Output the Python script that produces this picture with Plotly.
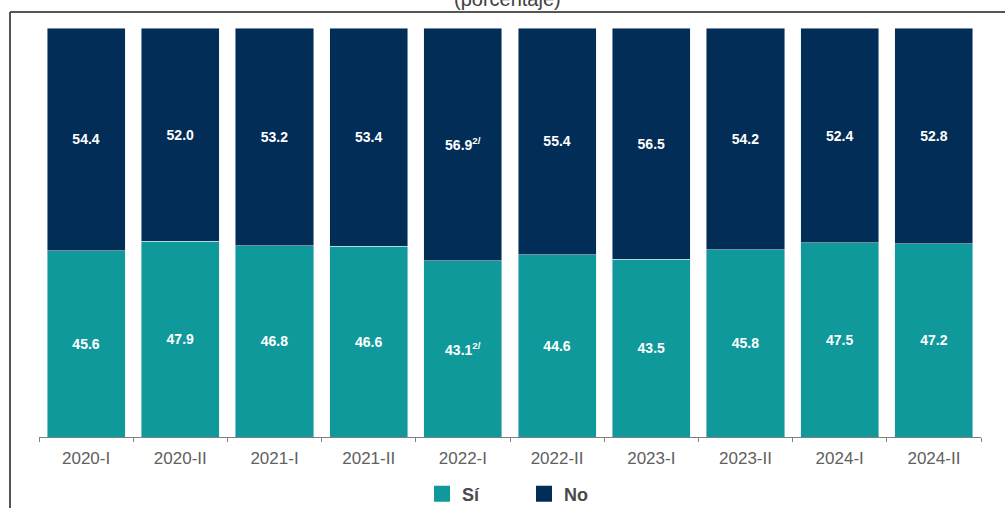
import plotly.graph_objects as go

categories = ["2020-I", "2020-II", "2021-I", "2021-II", "2022-I", "2022-II", "2023-I", "2023-II", "2024-I", "2024-II"]
si_values = [45.6, 47.9, 46.8, 46.6, 43.1, 44.6, 43.5, 45.8, 47.5, 47.2]
no_values = [54.4, 52.0, 53.2, 53.4, 56.9, 55.4, 56.5, 54.2, 52.4, 52.8]
si_labels = ["45.6", "47.9", "46.8", "46.6", "43.1<sup>2/</sup>", "44.6", "43.5", "45.8", "47.5", "47.2"]
no_labels = ["54.4", "52.0", "53.2", "53.4", "56.9<sup>2/</sup>", "55.4", "56.5", "54.2", "52.4", "52.8"]
series_names = ["Sí", "No"]

TEAL = "#0F999B"
NAVY = "#022D57"
W, H = 1005, 508
L, R, T, B = 39, 24, 28, 71
pw, ph = W - L - R, H - T - B

def px_x(x):
    return (x - L) / pw

def px_y(y):
    return (H - B - y) / ph

lab_font = dict(color="white", size=14, family="Liberation Sans, Arial")

fig = go.Figure()
fig.add_trace(go.Bar(
    x=categories, y=si_values, name=series_names[0], marker_color=TEAL, showlegend=False,
    text=si_labels, texttemplate="<b>%{text}</b>", textposition="inside",
    insidetextanchor="middle", textangle=0, textfont=lab_font,
))
fig.add_trace(go.Bar(
    x=categories, y=no_values, name=series_names[1], marker_color=NAVY, showlegend=False,
    text=no_labels, texttemplate="<b>%{text}</b>", textposition="inside",
    insidetextanchor="middle", textangle=0, textfont=lab_font,
))
# legend entries with larger square swatches
for nm, col in zip(series_names, [TEAL, NAVY]):
    fig.add_trace(go.Scatter(
        x=[None], y=[None], mode="markers", name="<b>" + nm + "</b>",
        marker=dict(symbol="square", size=22, color=col), showlegend=True,
    ))

fig.update_layout(
    width=W, height=H,
    margin=dict(l=L, r=R, t=T, b=B, autoexpand=False),
    barmode="stack", bargap=0.17,
    paper_bgcolor="white", plot_bgcolor="white",
    font=dict(family="Liberation Sans, Arial", color="#595959"),
    showlegend=True,
    legend=dict(
        orientation="h", xref="container", yref="container",
        x=524 / W, xanchor="center", y=(H - 494) / H, yanchor="middle",
        font=dict(size=18, color="#4a4a4a", family="Liberation Sans, Arial"),
        itemsizing="trace", itemwidth=30, traceorder="normal",
        entrywidth=57, entrywidthmode="pixels",
    ),
    xaxis=dict(
        showline=True, linecolor="#7f7f7f", linewidth=1, automargin=False,
        ticks="outside", tickson="boundaries", ticklen=4, tickcolor="#7f7f7f",
        tickfont=dict(size=17, color="#606060"), showgrid=False,
        ticklabelstandoff=6,
    ),
    yaxis=dict(range=[0, 100], visible=False, showgrid=False, automargin=False),
    shapes=[
        dict(type="line", xref="paper", yref="paper", x0=px_x(10), x1=px_x(1005), y0=px_y(12), y1=px_y(12),
             line=dict(color="#555555", width=2)),
        dict(type="line", xref="paper", yref="paper", x0=px_x(10), x1=px_x(10), y0=px_y(12), y1=px_y(508),
             line=dict(color="#555555", width=2)),
    ],
    annotations=[
        dict(text="(porcentaje)", xref="paper", yref="paper", x=px_x(507), y=px_y(-1),
             xanchor="center", yanchor="middle", showarrow=False,
             font=dict(size=20, color="#404040")),
    ],
)

fig.write_html("out.html", config={"displayModeBar": False},
               post_script="document.body.style.margin='0';document.body.style.padding='0';")
